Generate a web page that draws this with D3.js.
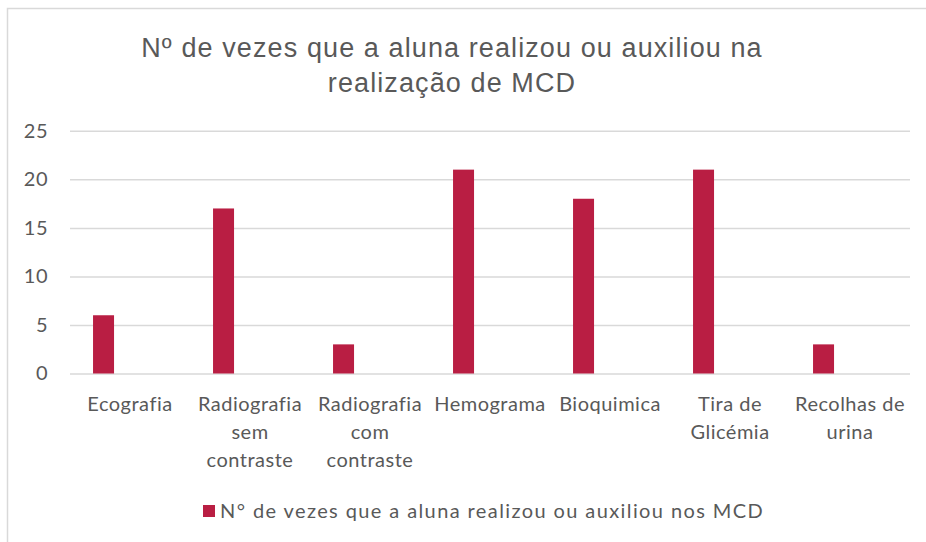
<!DOCTYPE html>
<html><head><meta charset="utf-8">
<script src="https://cdn.jsdelivr.net/npm/d3@7"></script>
<style>
html,body{margin:0;padding:0;background:#fff;}
svg{display:block;}
</style></head>
<body>
<script>
const titleLines = ["Nº de vezes que a aluna realizou ou auxiliou na", "realização de MCD"];
const categories = ["Ecografia", "Radiografia sem contraste", "Radiografia com contraste", "Hemograma", "Bioquimica", "Tira de Glicémia", "Recolhas de urina"];
const values = [6, 17, 3, 21, 18, 21, 3];
const yTicks = [0, 5, 10, 15, 20, 25];
const seriesName = "N° de vezes que a aluna realizou ou auxiliou nos MCD";

const W = 926, H = 542;
const svg = d3.select("body").append("svg").attr("width", W).attr("height", H);

svg.append("rect").attr("x", 7.5).attr("y", 8.5).attr("width", 1200).attr("height", 1200)
  .attr("fill", "#fff").attr("stroke", "#d9d9d9").attr("stroke-width", 1.5);

const x = d3.scaleBand().domain(categories).range([70, 910]).padding(0);
const y = d3.scaleLinear().domain([0, 25]).range([373.5, 130.8]);

const axisFont = "Lato, 'Noto Sans', sans-serif";
const txt = "#595959";

// title
svg.append("text").attr("text-anchor", "middle")
  .attr("font-family", "'Liberation Sans', Arial, sans-serif").attr("font-size", 27)
  .attr("letter-spacing", 1.1).attr("fill", txt)
  .selectAll("tspan").data(titleLines).join("tspan")
  .attr("x", 452).attr("y", (d, i) => 57 + i * 35).text(d => d);

// gridlines + y tick labels
const grid = svg.append("g").attr("transform", "translate(70,0)")
  .call(d3.axisLeft(y).tickValues(yTicks).tickSize(-(910 - 70)).tickFormat(d => d));
grid.select(".domain").remove();
grid.selectAll(".tick line").attr("stroke", "#d9d9d9").attr("stroke-width", 1.5);
grid.selectAll(".tick text").attr("x", -22).attr("fill", txt)
  .attr("font-family", axisFont).attr("font-size", 20).attr("letter-spacing", 0.5)
  .attr("text-anchor", "end");

// bars
const bw = x.bandwidth();
svg.append("g").selectAll("rect").data(values).join("rect")
  .attr("x", (d, i) => x(categories[i]) + bw * 0.192)
  .attr("width", bw * 0.175)
  .attr("y", d => y(d))
  .attr("height", d => y(0) - y(d))
  .attr("fill", "#B91E43");

// category labels
const xa = svg.append("g").attr("transform", `translate(0,${y(0)})`)
  .call(d3.axisBottom(x).tickSize(0).tickFormat(""));
xa.select(".domain").remove();
xa.selectAll(".tick").each(function(c) {
  const t = d3.select(this).append("text").attr("fill", txt)
    .attr("font-family", axisFont).attr("font-size", 20).attr("letter-spacing", 0.5)
    .attr("text-anchor", "middle").attr("y", 37);
  const words = c.split(" ");
  let lines = [], cur = [];
  const probe = t.append("tspan");
  words.forEach(w => {
    const test = cur.concat([w]).join(" ");
    probe.text(test);
    if (cur.length && probe.node().getComputedTextLength() > 120) { lines.push(cur.join(" ")); cur = [w]; }
    else cur.push(w);
  });
  lines.push(cur.join(" "));
  probe.remove();
  lines.forEach((l, i) => t.append("tspan").attr("x", 0).attr("dy", i === 0 ? 0 : 28).text(l));
});

// legend
const lg = svg.append("g");
lg.append("rect").attr("x", 203).attr("y", 505).attr("width", 12).attr("height", 12).attr("fill", "#B91E43");
lg.append("text").attr("x", 220).attr("y", 518).attr("fill", txt)
  .attr("font-family", axisFont).attr("font-size", 20).attr("letter-spacing", 1.4).text(seriesName);
</script>
</body></html>
